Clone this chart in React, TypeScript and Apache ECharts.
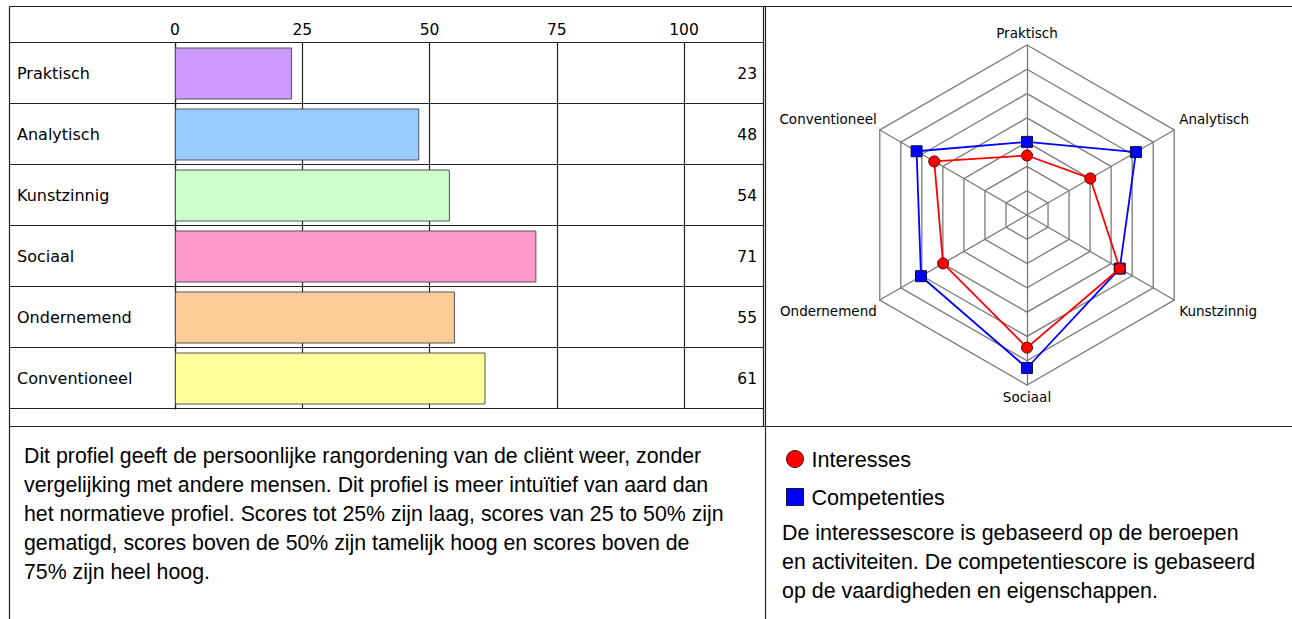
import React, { useEffect, useRef } from 'react';
import * as echarts from 'echarts';

// ---- data ----
const categories = ['Praktisch', 'Analytisch', 'Kunstzinnig', 'Sociaal', 'Ondernemend', 'Conventioneel'];
const scores = [23, 48, 54, 71, 55, 61];
const barColors = ['#CC99FF', '#99CCFF', '#CCFFCC', '#FF99CC', '#FFCC99', '#FFFF99'];
const xTickInterval = 25;
const xMax = 100;

// radar (values per category, same order as categories)
const interesses = [35, 43, 63, 78, 57, 63];
const competenties = [43, 74, 63, 90, 72, 75];
const radarMax = 100;
const radarSplits = 7;
// clockwise order from top, as drawn in the reference
const radarClockwise = ['Praktisch', 'Analytisch', 'Kunstzinnig', 'Sociaal', 'Ondernemend', 'Conventioneel'];

const leftParagraph = [
  'Dit profiel geeft de persoonlijke rangordening van de cliënt weer, zonder',
  'vergelijking met andere mensen. Dit profiel is meer intuïtief van aard dan',
  'het normatieve profiel. Scores tot 25% zijn laag, scores van 25 to 50% zijn',
  'gematigd, scores boven de 50% zijn tamelijk hoog en scores boven de',
  '75% zijn heel hoog.',
];
const rightParagraph = [
  'De interessescore is gebaseerd op de beroepen',
  'en activiteiten. De competentiescore is gebaseerd',
  'op de vaardigheden en eigenschappen.',
];

// ---- layout ----
const W = 1292;
const H = 619;
const TL = 9.5;
const TT = 6.5;
const MID = 765.5;
const INNER_R = 763.5;
const HDIV = 426.5;
const GRID_L = 175;
const GRID_T = 43;
const ROW_H = 61;
const GRID_R = 684;
const LINE = '#222';
const SANS = "'DejaVu Sans', Verdana, sans-serif";
const ARIAL = "'Liberation Sans', Arial, Helvetica, sans-serif";
const R_CX = 1027;
const R_CY = 215;
const R_R = 170;

export default function App() {
  const ref = useRef<HTMLDivElement>(null);
  useEffect(() => {
    const chart = echarts.init(ref.current!, null, { renderer: 'svg' });
    const n = categories.length;

    // ECharts places radar indicators counter-clockwise from startAngle
    const ccw = [radarClockwise[0], ...radarClockwise.slice(1).reverse()];
    const idxOf = (name: string) => categories.indexOf(name);

    const g: any[] = [];
    const line = (x1: number, y1: number, x2: number, y2: number) =>
      g.push({ type: 'line', silent: true, z: 10, shape: { x1, y1, x2, y2 }, style: { stroke: LINE, lineWidth: 1.2 } });
    line(TL, TT, W, TT);
    line(TL, TT, TL, H);
    line(MID, TT, MID, H);
    line(INNER_R, TT, INNER_R, HDIV);
    line(TL, HDIV, W, HDIV);
    for (let k = 0; k <= n; k++) {
      const y = GRID_T - 0.5 + ROW_H * k;
      line(TL, y, INNER_R, y);
    }

    // radar axis names
    ccw.forEach((name, i) => {
      const ang = ((90 + (360 / n) * i) * Math.PI) / 180;
      const c = Math.cos(ang);
      const s = Math.sin(ang);
      const px = R_CX + R_R * c;
      const py = R_CY - R_R * s;
      let x = px, y = py, align = 'center';
      if (Math.abs(c) < 0.01) {
        y = py + (s > 0 ? -12 : 12);
      } else {
        x = px + (c > 0 ? 5 : -3);
        y = py + (s > 0 ? -11 : 11);
        align = c > 0 ? 'left' : 'right';
      }
      g.push({
        type: 'text', silent: true, x, y,
        style: { text: name, fontFamily: SANS, fontSize: 13.5, fill: '#000', align, verticalAlign: 'middle' },
      });
    });

    g.push({
      type: 'text', silent: true, x: 24, y: 441,
      style: { text: leftParagraph.join('\n'), fontFamily: ARIAL, fontSize: 21.3, lineHeight: 29, fill: '#000', verticalAlign: 'top' },
    });
    g.push({
      type: 'text', silent: true, x: 782, y: 518,
      style: { text: rightParagraph.join('\n'), fontFamily: ARIAL, fontSize: 21.4, lineHeight: 29, fill: '#000', verticalAlign: 'top' },
    });

    chart.setOption({
      animation: false,
      backgroundColor: '#fff',
      grid: { left: GRID_L, top: GRID_T, width: GRID_R - GRID_L, height: ROW_H * n, containLabel: false },
      xAxis: {
        type: 'value', position: 'top', min: 0, max: xMax, interval: xTickInterval,
        axisLine: { show: false }, axisTick: { show: false },
        axisLabel: { fontFamily: SANS, fontSize: 15.5, color: '#000', margin: 5 },
        splitLine: { show: true, lineStyle: { color: LINE, width: 1.2 } },
      },
      yAxis: [
        {
          type: 'category', inverse: true, data: categories,
          axisLine: { show: true, lineStyle: { color: LINE, width: 1.2 } }, axisTick: { show: false },
          axisLabel: { fontFamily: SANS, fontSize: 16, color: '#000', align: 'left', margin: GRID_L - 17, padding: [0, 0, 4, 0] },
        },
        {
          type: 'category', inverse: true, position: 'right', data: categories,
          axisLine: { show: false }, axisTick: { show: false },
          axisLabel: {
            fontFamily: SANS, fontSize: 15.5, color: '#000', align: 'right', margin: 73,
            formatter: (_v: string, i: number) => String(scores[i]),
          },
        },
      ],
      radar: {
        center: [R_CX, R_CY], radius: R_R, startAngle: 90, splitNumber: radarSplits, shape: 'polygon',
        indicator: ccw.map((name) => ({ name, min: 0, max: radarMax })),
        axisName: { show: false },
        splitArea: { show: false },
        splitLine: { lineStyle: { color: '#7a7a7a', width: 1.3 } },
        axisLine: { lineStyle: { color: '#7a7a7a', width: 1.3 } },
        axisTick: { show: false }, axisLabel: { show: false },
      },
      legend: {
        orient: 'vertical', left: 781, top: 443, itemWidth: 17, itemHeight: 17, itemGap: 16,
        selectedMode: false,
        textStyle: { fontFamily: ARIAL, fontSize: 21.6, color: '#000', padding: [0, 0, 0, 3] },
        data: [
          { name: 'Interesses', icon: 'circle', itemStyle: { color: '#ff0000', borderColor: '#660000', borderWidth: 1 } },
          { name: 'Competenties', icon: 'rect', itemStyle: { color: '#0000ff', borderColor: '#111144', borderWidth: 1 } },
        ],
      },
      graphic: g,
      series: [
        {
          type: 'bar', xAxisIndex: 0, yAxisIndex: 0, barWidth: 52, silent: true,
          data: scores.map((v, i) => ({ value: v, itemStyle: { color: barColors[i] } })),
          itemStyle: { borderColor: '#555', borderWidth: 1 },
        },
        {
          type: 'radar', name: 'Interesses', silent: true, z: 3,
          data: [{
            name: 'Interesses', value: ccw.map((nm) => interesses[idxOf(nm)]),
            symbol: 'circle', symbolSize: 11,
            lineStyle: { color: '#ff0000', width: 1.8 },
            itemStyle: { color: '#ff0000', borderColor: '#550000', borderWidth: 1 },
          }],
        },
        {
          type: 'radar', name: 'Competenties', silent: true, z: 2,
          data: [{
            name: 'Competenties', value: ccw.map((nm) => competenties[idxOf(nm)]),
            symbol: 'rect', symbolSize: 11,
            lineStyle: { color: '#0000ff', width: 1.8 },
            itemStyle: { color: '#0000ff', borderColor: '#111133', borderWidth: 1 },
          }],
        },
      ],
    });
    return () => chart.dispose();
  }, []);
  return <div ref={ref} style={{ position: 'absolute', left: 0, top: 0, width: W, height: H, background: '#fff' }} />;
}
